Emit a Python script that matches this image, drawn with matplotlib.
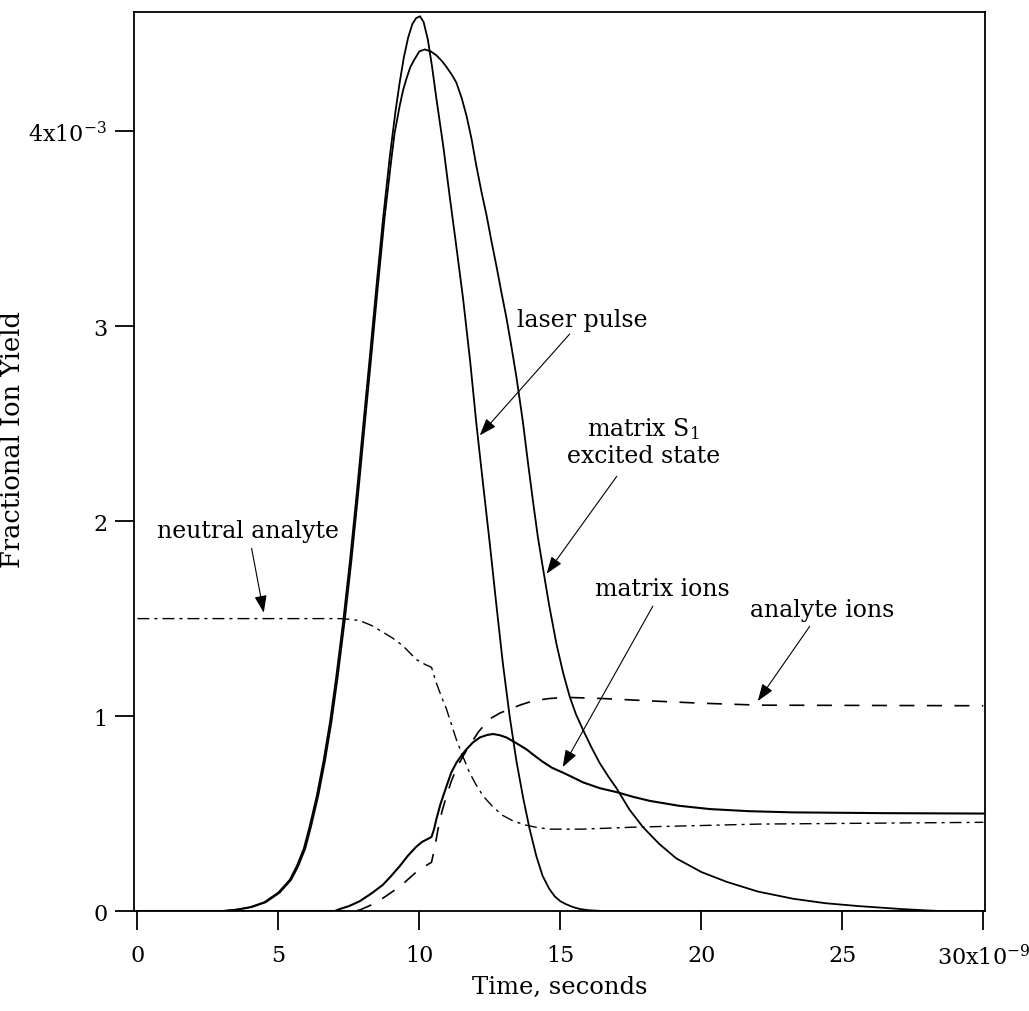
import matplotlib
matplotlib.use("Agg")
import matplotlib.pyplot as plt

plt.rcParams['font.family'] = ['DejaVu Serif']
plt.rcParams['mathtext.fontset'] = 'dejavuserif'
plt.rcParams['mathtext.default'] = 'regular'

# time in ns, yield in units of 1e-3
laser_t = [0, 3.0, 3.5, 4.0, 4.5, 5.0, 5.4, 5.65, 5.9, 6.1, 6.36, 6.6, 6.83, 7.05, 7.3, 7.54,
           7.77, 8.0, 8.24, 8.48, 8.71, 8.95, 9.15, 9.3, 9.45, 9.6, 9.75, 9.88, 10.02, 10.15,
           10.3, 10.45, 10.6, 10.85, 11.07, 11.3, 11.55, 11.8, 12.02, 12.25, 12.5, 12.73, 12.96,
           13.2, 13.44, 13.68, 13.91, 14.15, 14.37, 14.6, 14.8, 15.0, 15.2, 15.45, 15.7, 16.0,
           16.5, 30]
laser_y = [0, 0, 0.007, 0.02, 0.045, 0.095, 0.16, 0.23, 0.32, 0.43, 0.59, 0.77, 0.97, 1.20,
           1.49, 1.80, 2.13, 2.48, 2.84, 3.21, 3.55, 3.87, 4.10, 4.25, 4.38, 4.48, 4.55, 4.58,
           4.59, 4.56, 4.47, 4.33, 4.17, 3.92, 3.67, 3.42, 3.14, 2.82, 2.50, 2.20, 1.88, 1.57,
           1.27, 1.00, 0.77, 0.58, 0.42, 0.28, 0.18, 0.115, 0.075, 0.05, 0.035, 0.02, 0.01,
           0.004, 0, 0]

s1_t = [0, 3.05, 3.55, 4.05, 4.55, 5.05, 5.45, 5.7, 5.95, 6.15, 6.41, 6.65, 6.88, 7.1, 7.35,
        7.59, 7.82, 8.05, 8.29, 8.53, 8.76, 9.0, 9.12, 9.3, 9.42, 9.54, 9.68, 9.83, 10.0, 10.19,
        10.4, 10.6, 10.8, 10.96, 11.15, 11.31, 11.5, 11.67, 11.85, 12.01, 12.2, 12.38, 12.55,
        12.73, 12.9, 13.09, 13.27, 13.44, 13.67, 13.85, 14.03, 14.2, 14.38, 14.6, 14.86, 15.1,
        15.33, 15.55, 15.8, 16.1, 16.39, 16.7, 16.99, 17.45, 17.93, 18.5, 19.11, 20.0, 20.89,
        22.0, 23.25, 24.4, 25.6, 27.1, 28.0, 28.5, 30]
s1_y = [0, 0, 0.007, 0.02, 0.045, 0.095, 0.16, 0.23, 0.32, 0.43, 0.59, 0.77, 0.97, 1.20, 1.49,
        1.80, 2.13, 2.48, 2.84, 3.21, 3.55, 3.85, 3.99, 4.13, 4.21, 4.27, 4.33, 4.37, 4.41,
        4.42, 4.41, 4.39, 4.36, 4.33, 4.29, 4.25, 4.17, 4.08, 3.96, 3.83, 3.69, 3.57, 3.44,
        3.31, 3.18, 3.04, 2.89, 2.74, 2.51, 2.30, 2.10, 1.92, 1.76, 1.57, 1.37, 1.22,
        1.10, 1.01, 0.93, 0.84, 0.76, 0.69, 0.63, 0.52, 0.43, 0.345, 0.27, 0.20, 0.15,
        0.10, 0.063, 0.04, 0.025, 0.01, 0.003, 0, 0]

mion_t = [0, 7.0, 7.17, 7.5, 7.88, 8.3, 8.71, 9.0, 9.3, 9.6, 9.89, 10.1, 10.3, 10.43, 10.52,
          10.6, 10.75, 10.96, 11.13, 11.31, 11.5, 11.67, 11.9, 12.14, 12.4, 12.61, 12.85, 13.09,
          13.45, 13.79, 14.1, 14.38, 14.7, 15.09, 15.45, 15.8, 16.4, 16.99, 17.6, 18.17, 19.2,
          20.3, 21.7, 23.25, 26.5, 30]
mion_y = [0, 0, 0.01, 0.025, 0.05, 0.09, 0.135, 0.18, 0.23, 0.285, 0.33, 0.355, 0.37, 0.38,
          0.42, 0.47, 0.55, 0.64, 0.71, 0.76, 0.80, 0.83, 0.865, 0.89, 0.903, 0.908, 0.902,
          0.89, 0.86, 0.83, 0.795, 0.765, 0.735, 0.71, 0.685, 0.66, 0.63, 0.61, 0.585, 0.565,
          0.54, 0.523, 0.512, 0.506, 0.502, 0.5]

aion_t = [0, 7.5, 7.88, 8.2, 8.48, 8.8, 9.18, 9.5, 9.89, 10.2, 10.43, 10.55, 10.66, 10.8,
          10.96, 11.13, 11.31, 11.55, 11.78, 12.1, 12.49, 12.85, 13.2, 13.6, 14.03, 14.6,
          15.21, 16.5, 18.17, 20.0, 22.07, 30]
aion_y = [0, 0, 0.005, 0.025, 0.045, 0.075, 0.113, 0.15, 0.2, 0.23, 0.25, 0.33, 0.42, 0.51,
          0.59, 0.665, 0.73, 0.795, 0.85, 0.92, 0.985, 1.015, 1.036, 1.058, 1.078, 1.09,
          1.096, 1.09, 1.078, 1.066, 1.056, 1.053]

neut_t = [0, 7.17, 7.5, 7.88, 8.3, 8.71, 9.05, 9.42, 9.89, 10.2, 10.43, 10.6, 10.78, 10.96,
          11.13, 11.31, 11.55, 11.78, 12.0, 12.26, 12.6, 12.96, 13.35, 13.79, 14.2, 14.62,
          15.8, 17.58, 22.07, 30]
neut_y = [1.5, 1.5, 1.497, 1.49, 1.465, 1.43, 1.40, 1.36, 1.29, 1.265, 1.25, 1.17, 1.10,
          1.036, 0.96, 0.88, 0.79, 0.71, 0.65, 0.59, 0.535, 0.49, 0.46, 0.44, 0.428, 0.42,
          0.42, 0.43, 0.446, 0.455]

xticks = [0, 5, 10, 15, 20, 25, 30]
xtick_labels = ['0', '5', '10', '15', '20', '25', '30x10$^{-9}$']
yticks = [0, 1, 2, 3, 4]
ytick_labels = ['0', '1', '2', '3', '4x10$^{-3}$']

fig = plt.figure(figsize=(10.29, 10.12), dpi=100)
ax = fig.add_axes([0.130, 0.0988, 0.827, 0.888])

ax.plot(laser_t, laser_y, color='black', lw=1.3)
ax.plot(s1_t, s1_y, color='black', lw=1.3)
ax.plot(mion_t, mion_y, color='black', lw=1.5)
ax.plot(aion_t, aion_y, color='black', lw=1.2, dashes=(9, 7.5))
ax.plot(neut_t, neut_y, color='black', lw=1.0, dashes=(8.6, 3.6, 2.2, 3.6))

ax.set_xlim(-0.13, 30.05)
ax.set_ylim(0, 4.61)
ax.set_xticks(xticks)
ax.set_xticklabels(xtick_labels)
ax.set_yticks(yticks)
ax.set_yticklabels(ytick_labels)
ax.tick_params(direction='out', length=14, width=1.3, labelsize=16)
ax.tick_params(axis='x', pad=10)
ax.tick_params(axis='y', pad=5)
for sp in ax.spines.values():
    sp.set_linewidth(1.3)

ax.set_xlabel('Time, seconds', fontsize=17.5, labelpad=4)
ax.set_ylabel('Fractional Ion Yield', fontsize=18.5)
ax.yaxis.set_label_coords(-0.128, 0.526)

arrow = dict(arrowstyle='-|>,head_length=0.7,head_width=0.25', color='black', lw=0.8,
             shrinkA=0, shrinkB=0, mutation_scale=15)


def label(text, tx, ty, hx, hy, ax_x, ax_y):
    ax.text(tx, ty, text, fontsize=17, ha='center', va='center')
    ax.annotate('', xy=(hx, hy), xytext=(ax_x, ax_y), arrowprops=arrow)


label('laser pulse', 15.76, 3.036, 12.14, 2.44, 15.33, 2.96)
label('matrix S$_1$\nexcited state', 17.95, 2.41, 14.51, 1.73, 17.0, 2.23)
label('matrix ions', 18.6, 1.656, 15.08, 0.738, 18.28, 1.564)
label('analyte ions', 24.27, 1.549, 22.0, 1.077, 23.84, 1.46)
label('neutral analyte', 3.91, 1.95, 4.48, 1.53, 4.05, 1.86)

fig.savefig('out.png', dpi=100)
